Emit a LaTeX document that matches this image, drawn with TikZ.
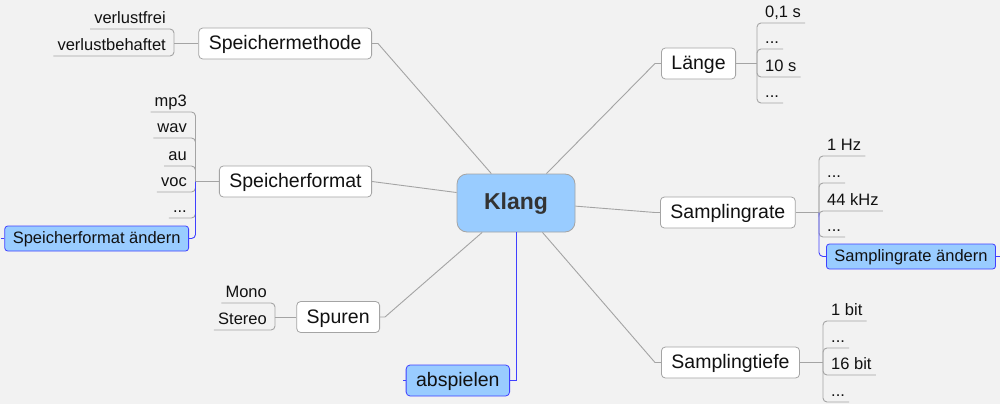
\documentclass[tikz,border=0pt]{standalone}
\usepackage{fontspec}
\setmainfont{Liberation Sans}
\definecolor{bg}{HTML}{F2F2F2}
\definecolor{lgray}{HTML}{A4A4A4}
\definecolor{bfill}{HTML}{99CCFF}
\definecolor{bline}{HTML}{4040FF}
\definecolor{ktext}{HTML}{333333}
\definecolor{ttext}{HTML}{111111}
\begin{document}
\begin{tikzpicture}[x=1pt,y=-1pt,
 mainbox/.style={draw=lgray, fill=white, rounded corners=4pt, font=\fontsize{19.5}{22}\selectfont, text=ttext, inner xsep=10pt, inner ysep=0pt, minimum height=31pt, text height=15pt, text depth=3pt, line width=0.8pt},
 bluebox/.style={mainbox, draw=bline, fill=bfill},
 smallblue/.style={draw=bline, fill=bfill, rounded corners=3pt, font=\fontsize{16.5}{18}\selectfont, text=ttext, inner xsep=8pt, inner ysep=0pt, minimum height=25pt, text height=13pt, text depth=3pt, line width=0.8pt},
 leaf/.style={font=\fontsize{16.5}{18}\selectfont, text=ttext, inner xsep=4pt, inner ysep=0pt, text height=13pt, text depth=5.5pt},
 conn/.style={draw=lgray, line width=0.9pt},
 bconn/.style={draw=bline, line width=0.9pt},
 ul/.style={conn, rounded corners=4pt}]
\fill[bg] (0,0) rectangle (1000,404);
\useasboundingbox (0,0) rectangle (1000,404);

% centre
\node[draw=lgray, fill=bfill, rounded corners=10pt, minimum width=118pt, minimum height=58pt, inner sep=0pt, font=\fontsize{23}{26}\bfseries, text=ktext, text height=16.5pt, text depth=4.5pt, line width=0.8pt] (klang) at (516,203) {Klang};

% main nodes
\node[mainbox, anchor=east] (smeth) at (372,43.5) {Speichermethode};
\node[mainbox, anchor=east] (sform) at (372,181.5) {Speicherformat};
\node[mainbox, anchor=east] (spur) at (380,317) {Spuren};
\node[mainbox, anchor=west] (laenge) at (661,63.5) {Länge};
\node[mainbox, anchor=west] (srate) at (660,212.5) {Samplingrate};
\node[mainbox, anchor=west] (stiefe) at (661,362.5) {Samplingtiefe};
\node[bluebox, anchor=east] (absp) at (510,380.5) {abspielen};

% connectors to centre
\draw[conn] (smeth.east) -- ++(6,0) -- (klang.130.8);
\draw[conn] (sform.east) -- (klang.170.4);
\draw[conn] (spur.east) -- ++(5,0) -- (klang.221.3);
\draw[conn] (klang.44) -- (655,63.5) -- (laenge.west);
\draw[conn] (klang.-3.9) -- (655,212.5) -- (srate.west);
\draw[conn] (klang.-48.1) -- (655,362.5) -- (stiefe.west);
\draw[bconn] (klang.south) |- (absp.east);
\draw[bconn] (absp.west) -- ++(-3,0);

% Speichermethode leaves
\node[leaf, anchor=south east] (m1) at (170,29) {verlustfrei};
\node[leaf, anchor=south east] (m2) at (170,56) {verlustbehaftet};
\draw[ul] (m1.south west) -- (174,29) -- (174,43.5);
\draw[ul] (m2.south west) -- (174,56) -- (174,43.5);
\draw[conn] (smeth.west) -- (174,43.5);

% Speicherformat leaves
\node[leaf, anchor=south east] (f1) at (191,112) {mp3};
\node[leaf, anchor=south east] (f2) at (191,138) {wav};
\node[leaf, anchor=south east] (f3) at (191,166) {au};
\node[leaf, anchor=south east] (f4) at (191,192) {voc};
\node[leaf, anchor=south east] (f5) at (191,218) {...};
\foreach \n/\y in {f1/112,f2/138,f3/166,f4/192,f5/218}
  \draw[ul] (\n.south west) -- (195.5,\y) -- (195.5,181.5);
\draw[conn] (sform.west) -- (195.5,181.5);
\node[smallblue, anchor=east] (sfa) at (189,238.5) {Speicherformat ändern};
\draw[bconn, rounded corners=4pt] (195.5,181.5) -- (195.5,238.5) -- (sfa.east);
\draw[bconn] (sfa.west) -- ++(-3,0);

% Spuren leaves
\node[leaf, anchor=south east] (s1) at (271,303) {Mono};
\node[leaf, anchor=south east] (s2) at (271,330) {Stereo};
\draw[ul] (s1.south west) -- (275,303) -- (275,317);
\draw[ul] (s2.south west) -- (275,330) -- (275,317);
\draw[conn] (spur.west) -- (275,317);

% Laenge leaves
\node[leaf, anchor=south west] (l1) at (761,23) {0,1 s};
\node[leaf, anchor=south west] (l2) at (761,49) {...};
\node[leaf, anchor=south west] (l3) at (761,77) {10 s};
\node[leaf, anchor=south west] (l4) at (761,103) {...};
\foreach \n/\y in {l1/23,l2/49,l3/77,l4/103}
  \draw[ul] (\n.south east) -- (757,\y) -- (757,63.5);
\draw[conn] (laenge.east) -- (757,63.5);

% Samplingrate leaves
\node[leaf, anchor=south west] (r1) at (823,156) {1 Hz};
\node[leaf, anchor=south west] (r2) at (823,183) {...};
\node[leaf, anchor=south west] (r3) at (823,211) {44 kHz};
\node[leaf, anchor=south west] (r4) at (823,237) {...};
\foreach \n/\y in {r1/156,r2/183,r3/211,r4/237}
  \draw[ul] (\n.south east) -- (819,\y) -- (819,212.5);
\draw[conn] (srate.east) -- (819,212.5);
\node[smallblue, anchor=west] (sra) at (826,256.5) {Samplingrate ändern};
\draw[bconn, rounded corners=4pt] (819,212.5) -- (819,256.5) -- (sra.west);
\draw[bconn] (sra.east) -- ++(4,0);

% Samplingtiefe leaves
\node[leaf, anchor=south west] (t1) at (827,321) {1 bit};
\node[leaf, anchor=south west] (t2) at (827,348) {...};
\node[leaf, anchor=south west] (t3) at (827,375) {16 bit};
\node[leaf, anchor=south west] (t4) at (827,402) {...};
\foreach \n/\y in {t1/321,t2/348,t3/375,t4/402}
  \draw[ul] (\n.south east) -- (823,\y) -- (823,362.5);
\draw[conn] (stiefe.east) -- (823,362.5);
\end{tikzpicture}
\end{document}
